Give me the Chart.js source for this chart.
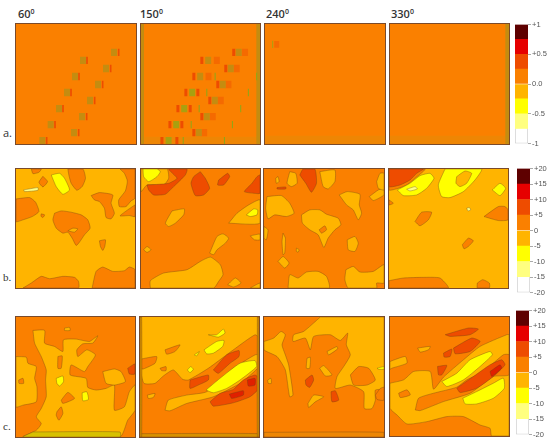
<!DOCTYPE html>
<html>
<head>
<meta charset="utf-8">
<script src="https://cdn.jsdelivr.net/npm/chart.js@4"></script>
<style>
body { margin: 0; background: #fff; width: 550px; height: 444px; overflow: hidden; position: relative; }
canvas { position: absolute; }
.panel { outline: 1px solid #7a4a2a; filter: blur(0.35px); }
.head, .row { position: absolute; color: #333; line-height: 1; }
.head { font: 600 11px "Open Sans", sans-serif; top: 6px; }
.head sup { font-size: 7px; vertical-align: 4px; line-height: 0; }
.row { font: 11px "Liberation Serif", serif; left: 3px; }
</style>
</head>
<body>
<div class="head" style="left:18px">60<sup>0</sup></div>
<div class="head" style="left:140px">150<sup>0</sup></div>
<div class="head" style="left:266px">240<sup>0</sup></div>
<div class="head" style="left:391px">330<sup>0</sup></div>
<div class="row" style="top:125px;font-family:'Open Sans',sans-serif">a.</div>
<div class="row" style="top:271px">b.</div>
<div class="row" style="top:420px">c.</div>
<script>
// colour bands, bottom to top
const bandColors = ['#ffffff', '#ffff80', '#ffff00', '#ffb400', '#fa8000', '#ee4c00', '#e60000', '#5e0000'];
const edgesA = [-1, -0.75, -0.5, -0.25, 0, 0.25, 0.5, 0.75, 1];
const edgesB = [-20, -15, -10, -5, 0, 5, 10, 15, 20];
const labelsA = { '1': '+1', '0.5': '+0.5', '0': '0.0', '-0.5': '-0.5', '-1': '-1' };
const labelsB = { '20': '+20', '15': '+15', '10': '+10', '5': '+5', '0': '0', '-5': '-5', '-10': '-10', '-15': '-15', '-20': '-20' };

// row a: speckle cells, centres
const a60Olive = [[343,156],[250,180],[319,204],[226,228],[295,252],[202,276],[271,300],[178,324],[247,348],[153,372],[223,396],[128,420]];
const a60Red = [[357,156],[262,180],[333,204],[238,228],[309,252],[214,276],[285,300],[190,324],[261,348],[166,372],[237,396],[141,420]];
const a150Olive = [[716,156],[624,180],[692,204],[600,228],[668,252],[644,300],[620,348],[596,396]];
const a150Green = [[576,276],[552,324],[528,372],[505,420]];
const a150Red = [[701,156],[605,180],[677,204],[581,228],[653,252],[557,276],[593,276],[629,300],[533,324],[570,324],[605,348],[509,372],[545,372],[581,396],[485,420],[530,420]];
const a150Soft = [[735,156],[650,180],[710,204],[625,228],[685,252],[662,300],[638,348],[612,396]];
const a150Lines = [[645,228],[770,228],[620,276],[745,276],[597,324],[722,324],[573,372],[697,372],[549,420],[673,420]];
const a150Side = [[[422,71],[431,71],[431,430],[422,430]],[[769,71],[780,71],[780,430],[769,430]]];
const a150Edge = [[[422,408],[780,408],[780,430],[422,430]]];
const a240Lines = [[38,132]];
const a240Soft = [[50,132]];
const a240Edge = [[[15,405],[374,405],[374,430],[15,430]]];
const a330Side = [[[737,71],[748,71],[748,430],[737,430]]];
const a330Edge = [[[389,405],[748,405],[748,430],[389,430]]];

// row b: contour outlines
const b60Orange = [
  [[95,42],[125,42],[118,52],[100,56]],
  [[130,64],[144,80],[130,96],[118,82]],
  [[205,42],[250,42],[258,70],[248,95],[232,106],[215,85],[208,60]],
  [[49,132],[90,128],[108,142],[118,170],[98,185],[70,195],[49,200]],
  [[125,177],[135,180],[130,188],[124,184]],
  [[165,175],[185,168],[215,172],[245,180],[265,195],[272,220],[255,240],[240,262],[230,272],[218,250],[205,232],[190,235],[170,220],[160,195]],
  [[275,122],[300,113],[340,120],[335,145],[345,175],[335,192],[320,188],[315,160],[300,140],[285,135]],
  [[300,258],[318,255],[316,275],[310,287],[303,275]],
  [[362,42],[407,42],[407,130],[395,138],[380,155],[360,155],[358,135],[378,108],[384,78],[375,55]],
  [[407,150],[407,185],[390,182],[362,183],[385,165]],
  [[70,400],[95,385],[125,365],[150,372],[190,365],[225,368],[237,380],[237,400]],
  [[278,400],[290,350],[310,337],[340,350],[375,348],[390,337],[407,345],[407,400]]
];
const b60Amber = [[[205,228],[220,220],[235,222],[225,232]]];
const b60Yellow = [[[155,60],[180,55],[195,70],[210,105],[190,118],[170,95]]];
const b60Pale = [[[72,105],[115,98],[115,106],[75,110]]];

const b150Amber = [
  [[422,42],[500,42],[505,70],[490,90],[440,90],[422,110]],
  [[515,168],[552,162],[550,180],[525,205],[505,215],[495,205]],
  [[685,205],[710,175],[745,150],[779,135],[779,205]],
  [[750,243],[779,238],[779,255],[762,255]],
  [[628,295],[650,245],[668,237],[685,250],[675,265],[650,285],[640,300]],
  [[430,285],[440,275],[452,285],[440,293]],
  [[450,400],[450,378],[490,355],[560,345],[600,320],[630,307],[660,330],[668,360],[655,380],[640,400]],
  [[682,390],[705,370],[722,385],[700,397]],
  [[750,400],[779,385],[779,400]]
];
const b150Yellow = [
  [[428,42],[470,42],[480,50],[470,65],[445,80],[430,65]],
  [[738,180],[760,162],[772,165],[770,180],[750,185]]
];
const b150Hot = [
  [[440,90],[475,88],[505,85],[530,70],[505,42],[560,42],[555,60],[520,95],[495,118],[460,120],[445,105]],
  [[600,50],[615,70],[628,100],[610,120],[585,122],[572,85],[580,65]],
  [[655,75],[682,55],[688,65],[670,90],[652,90]],
  [[755,85],[770,65],[779,60],[779,115],[760,115],[732,110]]
];

const b240Amber = [
  [[22,125],[65,122],[90,145],[103,175],[80,185],[45,180],[25,192],[18,160]],
  [[90,50],[108,55],[112,85],[95,95],[82,85]],
  [[180,50],[225,45],[225,80],[205,102],[190,95]],
  [[48,70],[55,65],[58,80],[50,85]],
  [[125,180],[150,165],[180,165],[200,178],[235,190],[243,210],[225,225],[205,250],[192,278],[175,240],[150,225],[128,205]],
  [[238,120],[262,110],[300,118],[298,150],[305,175],[295,195],[280,165],[260,150]],
  [[328,125],[355,105],[372,100],[372,120],[340,137]],
  [[350,80],[360,55],[372,55],[372,105],[355,100]],
  [[13,215],[25,225],[20,255],[13,250]],
  [[70,235],[77,250],[75,295],[70,300],[67,260]],
  [[110,280],[118,285],[115,292],[110,290]],
  [[55,320],[70,305],[88,325],[75,340]],
  [[262,255],[285,245],[295,265],[285,290],[265,285]],
  [[85,400],[90,360],[115,370],[140,352],[175,350],[200,365],[208,400]],
  [[258,345],[280,335],[300,352],[340,350],[372,330],[372,385],[350,385],[350,400],[265,400],[255,375]]
];
const b240Orange = [[[178,225],[195,213],[200,225],[185,235]]];
const b240Hot = [
  [[120,60],[130,42],[165,42],[170,85],[155,112],[138,85]],
  [[52,98],[78,96],[78,102],[52,102]]
];

const b330Orange = [
  [[387,42],[495,42],[465,70],[440,90],[415,100],[387,105]],
  [[465,200],[485,172],[515,172],[505,195],[480,213]],
  [[672,185],[715,155],[735,155],[744,165],[744,195],[715,197]],
  [[607,270],[625,250],[640,258],[625,275],[612,282]],
  [[387,378],[430,370],[490,368],[540,370],[565,400],[387,400]],
  [[652,385],[668,375],[688,385],[688,400],[652,400]],
  [[387,135],[400,145],[387,150]]
];
const b330Hot = [[[387,42],[490,42],[470,55],[450,75],[420,90],[387,95]]];
const b330Yellow = [
  [[412,105],[450,85],[480,62],[510,55],[522,70],[500,100],[470,120],[430,122]],
  [[555,42],[665,42],[645,75],[610,110],[570,128],[545,125],[535,90]],
  [[697,105],[720,85],[737,100],[720,122]]
];
const b330Amber = [[[590,65],[615,48],[635,55],[620,85],[600,95],[588,85]]];
const b330Pale = [[[440,103],[465,95],[472,102],[450,108]],[[620,160],[628,158],[632,165],[624,168]]];

// row c: contour outlines
const c60Amber = [
  [[49,170],[80,172],[85,190],[110,200],[105,235],[112,260],[110,305],[70,315],[49,320]],
  [[100,92],[135,92],[135,130],[165,140],[190,155],[192,120],[230,118],[270,125],[295,108],[280,130],[250,132],[232,150],[235,170],[262,150],[288,165],[265,200],[255,215],[215,195],[212,225],[260,235],[265,262],[290,270],[320,265],[345,255],[345,330],[375,320],[390,275],[407,255],[407,330],[385,360],[362,410],[70,410],[110,390],[125,370],[110,350],[125,325],[140,290],[138,240],[140,210],[125,170],[105,130]],
  [[310,215],[345,207],[365,215],[378,245],[345,255],[320,250]],
  [[195,85],[210,83],[212,92],[195,92]]
];
const c60Orange = [
  [[175,170],[188,168],[185,205],[175,205]],
  [[185,300],[205,277],[225,295],[190,310]],
  [[172,335],[185,320],[190,340],[178,360],[170,345]],
  [[57,240],[70,235],[72,250],[58,250]]
];
const c60Yellow = [
  [[170,235],[190,228],[192,245],[180,258],[172,250]],
  [[248,278],[262,275],[267,298],[250,302]]
];
const c60Hot = [[[385,205],[407,192],[407,222],[390,222]]];
const c60Edge = [[[100,395],[362,395],[362,410],[70,410]]];

const c150Orange = [
  [[420,207],[432,250],[465,250],[490,228],[520,210],[548,238],[565,240],[625,205],[700,150],[765,105],[777,115],[777,410],[420,410]],
  [[495,150],[540,135],[525,155],[500,163]],
  [[420,178],[470,170],[465,190],[430,207],[420,205]],
  [[480,205],[498,200],[498,212],[485,212]]
];
const c150Amber = [
  [[495,330],[505,300],[560,285],[620,275],[700,205],[765,165],[777,165],[777,200],[720,250],[640,290],[560,310],[510,332]],
  [[442,285],[465,280],[460,292],[445,295]]
];
const c150Yellow = [
  [[618,270],[660,235],[720,190],[765,182],[770,200],[720,240],[680,265],[640,278]],
  [[612,150],[650,125],[672,122],[668,140],[640,160],[620,162]],
  [[625,105],[650,105],[670,88],[675,100],[655,112]],
  [[562,210],[572,200],[580,208],[570,218]],
  [[583,165],[598,155],[590,168]]
];
const c150Hot = [
  [[570,240],[625,225],[625,240],[595,255],[570,265]],
  [[640,210],[680,165],[717,152],[717,170],[690,190],[655,220]],
  [[630,305],[660,280],[700,268],[730,240],[765,225],[777,235],[777,265],[750,290],[700,308],[640,318]]
];
const c150Red = [
  [[688,282],[730,272],[730,285],[695,295]],
  [[742,240],[765,235],[765,255],[745,258]]
];
const c150Edge = [[[420,400],[777,400],[777,410],[420,410]],[[420,52],[425,52],[425,410],[420,410]],[[772,52],[777,52],[777,410],[772,410]]];

const c240Amber = [
  [[180,52],[371,52],[371,265],[345,270],[345,300],[335,325],[312,325],[310,275],[270,255],[225,265],[230,230],[250,200],[270,165],[258,135],[262,100],[240,122],[210,105],[160,110],[150,150],[135,115],[98,125],[100,105],[130,95]],
  [[11,125],[40,115],[62,95],[75,105],[65,135],[75,165],[85,195],[98,285],[88,290],[75,210],[50,170],[11,150]],
  [[200,155],[230,140],[232,147],[205,165]],
  [[140,175],[150,172],[148,205],[138,205]],
  [[178,205],[190,197],[215,225],[195,228]],
  [[22,240],[32,235],[33,250],[24,250]],
  [[143,310],[160,285],[190,290],[165,305],[145,322]]
];
const c240Orange = [
  [[270,225],[295,200],[325,205],[345,240],[320,255],[280,255]],
  [[345,285],[360,265],[371,262],[371,300],[350,298]]
];
const c240Yellow = [[[350,205],[371,200],[371,208],[355,208]]];
const c240Hot = [
  [[135,240],[155,225],[160,240],[148,262],[137,255]],
  [[212,275],[225,272],[235,300],[215,305]]
];
const c240Edge = [[[11,396],[371,396],[371,410],[11,410]]];

const c330Amber = [
  [[389,250],[430,240],[460,215],[510,215],[520,268],[550,232],[610,180],[660,140],[740,105],[747,105],[747,408],[695,408],[690,385],[660,375],[610,350],[560,350],[500,365],[440,372],[410,345],[389,325]],
  [[389,185],[435,170],[440,190],[395,205],[389,208]],
  [[472,145],[510,140],[505,150],[480,157]]
];
const c330Orange = [
  [[465,330],[475,295],[520,280],[590,262],[620,240],[670,215],[730,165],[747,165],[747,225],[700,230],[630,280],[550,305],[480,332]],
  [[415,280],[440,270],[450,285],[420,293]]
];
const c330Yellow = [
  [[545,245],[590,220],[630,180],[690,155],[697,165],[660,200],[610,240],[560,260]],
  [[608,295],[650,275],[700,250],[730,235],[733,265],[700,295],[650,312],[615,312]]
];
const c330Hot = [
  [[590,265],[640,230],[690,195],[725,180],[735,195],[700,230],[650,265],[600,278]],
  [[555,105],[625,85],[655,88],[630,105],[570,110]],
  [[580,145],[635,115],[660,125],[630,155],[585,162]],
  [[550,160],[575,148],[570,170],[552,172]],
  [[532,200],[560,197],[545,225],[535,225]]
];
const c330Red = [[[690,215],[720,195],[725,205],[695,230]]];

const ORANGE = '#fa8000', AMBER = '#ffb400', YELLOW = '#ffff00', PALE = '#ffff80', HOT = '#ee4c00', RED = '#e02000';
const OLIVE = '#c48c10', GREEN = '#a8a010', SIDE = '#c48c10', STRIP = '#ee8604', SOFT = '#f56a00';

// turn cell centres into little rectangles
function cells(centres, w, h) {
  return centres.map(([x, y]) => [[x - w / 2, y - h / 2], [x + w / 2, y - h / 2], [x + w / 2, y + h / 2], [x - w / 2, y + h / 2]]);
}

function drawPanel(left, top, w, h, win, base, layers, smooth) {
  const canvas = document.createElement('canvas');
  canvas.className = 'panel';
  canvas.width = w;
  canvas.height = h;
  canvas.style.left = left + 'px';
  canvas.style.top = top + 'px';
  canvas.style.background = base;
  document.body.appendChild(canvas);

  const datasets = [];
  layers.forEach(([polys, color]) => {
    polys.forEach(poly => {
      const pts = poly.concat([poly[0]]).map(([x, y]) => ({ x, y }));
      datasets.push({
        data: pts,
        showLine: true,
        fill: 'shape',
        backgroundColor: color,
        borderColor: smooth ? 'rgba(105,65,20,0.6)' : color,
        borderWidth: smooth ? 0.6 : 0,
        tension: smooth ? 0.18 : 0,
        pointRadius: 0
      });
    });
  });
  // chart.js paints the first dataset last
  datasets.forEach((d, i) => { d.order = datasets.length - i; });

  new Chart(canvas, {
    type: 'scatter',
    data: { datasets },
    options: {
      responsive: false,
      animation: false,
      layout: { padding: 0 },
      plugins: { legend: { display: false }, tooltip: { enabled: false } },
      scales: {
        x: { display: false, min: win[0], max: win[1] },
        y: { display: false, min: win[2], max: win[3], reverse: true }
      }
    }
  });
}

function drawBar(left, top, h, edges, labels, step) {
  const canvas = document.createElement('canvas');
  canvas.width = 35;
  canvas.height = h + 10;
  canvas.style.left = left + 'px';
  canvas.style.top = (top - 5) + 'px';
  document.body.appendChild(canvas);

  const datasets = bandColors.map((color, i) => ({
    data: [[edges[i], edges[i + 1]]],
    backgroundColor: color,
    borderColor: i === 0 ? '#cccccc' : color,
    borderWidth: i === 0 ? 1 : 0,
    barPercentage: 1,
    categoryPercentage: 1,
    grouped: false
  }));

  new Chart(canvas, {
    type: 'bar',
    data: { labels: [''], datasets },
    options: {
      responsive: false,
      animation: false,
      layout: { padding: { top: 5, bottom: 5 } },
      plugins: { legend: { display: false }, tooltip: { enabled: false } },
      scales: {
        x: { display: false },
        y: {
          position: 'right',
          min: edges[0],
          max: edges[edges.length - 1],
          afterFit: s => { s.width = 22; },
          border: { display: false },
          grid: { drawOnChartArea: false, color: '#aaaaaa', tickLength: 3 },
          ticks: {
            stepSize: step,
            padding: 1,
            autoSkip: false,
            color: '#555555',
            font: { size: 7.5, family: 'Liberation Sans' },
            callback: v => labels[String(v)]
          }
        }
      }
    }
  });
}

// row a
drawPanel(16, 24, 120, 120, [49, 409, 71, 430], ORANGE, [
  [cells(a60Olive, 18, 22), OLIVE], [cells(a60Red, 5, 22), HOT]
], false);
drawPanel(141, 24, 119, 120, [422, 780, 71, 430], ORANGE, [
  [a150Edge, STRIP], [a150Side, SIDE], [cells(a150Soft, 18, 22), SOFT], [cells(a150Olive, 18, 22), OLIVE],
  [cells(a150Green, 18, 22), GREEN], [cells(a150Red, 9, 22), HOT], [cells(a150Lines, 3, 22), '#8aa818']
], false);
drawPanel(265, 24, 120, 120, [15, 374, 71, 430], ORANGE, [
  [a240Edge, STRIP], [cells(a240Soft, 15, 20), SOFT], [cells(a240Lines, 3, 22), '#a8a010']
], false);
drawPanel(390, 24, 119, 120, [389, 748, 71, 430], ORANGE, [[a330Edge, STRIP], [a330Side, SIDE]], false);

// row b
drawPanel(16, 169, 119, 119, [49, 407, 42, 400], AMBER, [
  [b60Orange, ORANGE], [b60Amber, AMBER], [b60Yellow, YELLOW], [b60Pale, PALE]
], true);
drawPanel(141, 169, 119, 119, [422, 779, 42, 400], ORANGE, [
  [b150Amber, AMBER], [b150Yellow, YELLOW], [b150Hot, HOT]
], true);
drawPanel(264, 169, 120, 119, [13, 372, 42, 400], ORANGE, [
  [b240Amber, AMBER], [b240Orange, ORANGE], [b240Hot, HOT]
], true);
drawPanel(389, 169, 119, 119, [387, 744, 42, 400], AMBER, [
  [b330Orange, ORANGE], [b330Hot, HOT], [b330Yellow, YELLOW], [b330Amber, AMBER], [b330Pale, PALE]
], true);

// row c
drawPanel(16, 317, 119, 120, [49, 407, 52, 410], ORANGE, [
  [c60Amber, AMBER], [c60Orange, ORANGE], [c60Yellow, YELLOW], [c60Hot, HOT], [c60Edge, '#d8c000']
], true);
drawPanel(140, 317, 119, 120, [420, 777, 52, 410], AMBER, [
  [c150Orange, ORANGE], [c150Amber, AMBER], [c150Yellow, YELLOW], [c150Hot, HOT], [c150Red, RED], [c150Edge, '#d89000']
], true);
drawPanel(264, 317, 120, 120, [11, 371, 52, 410], ORANGE, [
  [c240Amber, AMBER], [c240Orange, ORANGE], [c240Yellow, YELLOW], [c240Hot, HOT], [c240Edge, STRIP]
], true);
drawPanel(390, 317, 119, 119, [389, 747, 52, 408], ORANGE, [
  [c330Amber, AMBER], [c330Orange, ORANGE], [c330Yellow, YELLOW], [c330Hot, HOT], [c330Red, RED]
], true);

// colour bars
drawBar(515, 24, 120, edgesA, labelsA, 0.5);
drawBar(517, 168, 125, edgesB, labelsB, 5);
drawBar(516, 310, 125, edgesB, labelsB, 5);
</script>
</body>
</html>
